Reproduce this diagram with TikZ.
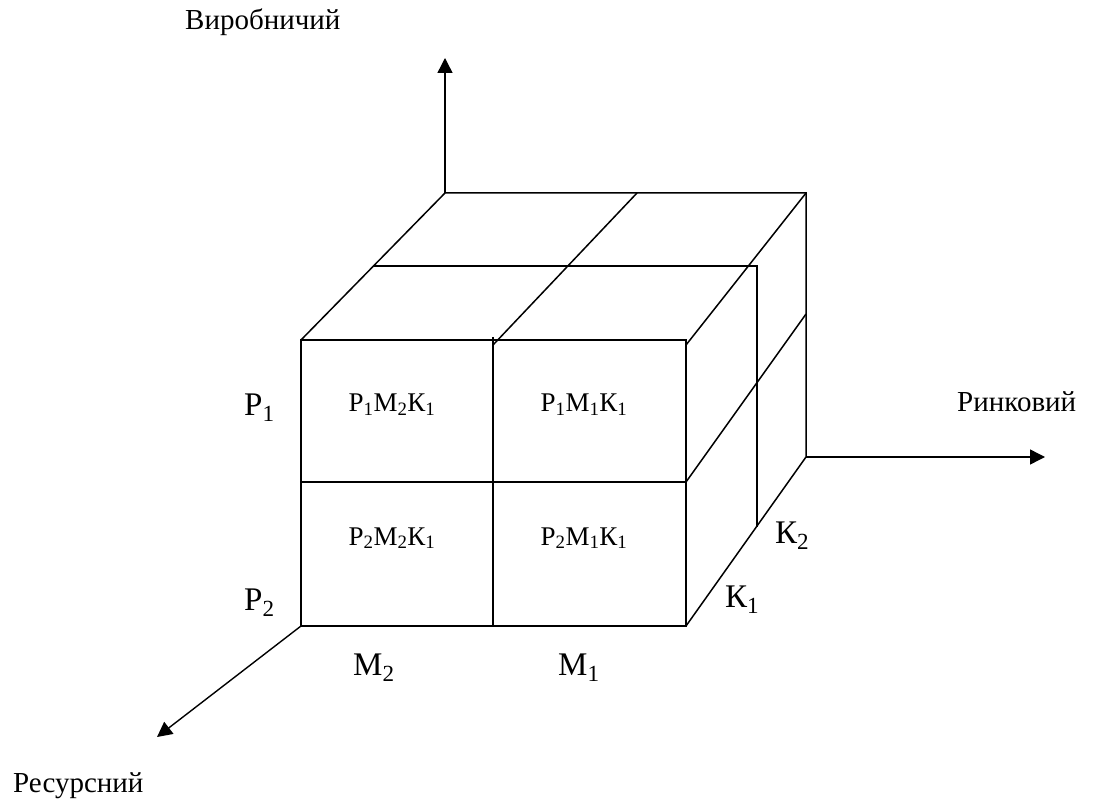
\documentclass[tikz,border=0pt]{standalone}
\usepackage{fontspec}
\setmainfont{Liberation Serif}
\usepackage{tikz}
\usetikzlibrary{arrows.meta}
\newcommand{\ix}[1]{\textsubscript{#1}}

\begin{document}
\begin{tikzpicture}[
  x=1pt, y=-1pt,
  edge/.style={line width=1.5pt},
  arr/.style={line width=1.4pt, -{Triangle[length=15pt, width=15pt]}},
  axis/.style={font=\fontsize{29}{34}\selectfont, anchor=base west, inner sep=0pt},
  dim/.style={font=\fontsize{33}{38}\selectfont, anchor=base west, inner sep=0pt},
  cell/.style={font=\fontsize{27}{31}\selectfont, anchor=base, inner sep=0pt},
  ]
  \useasboundingbox (0,0) rectangle (1093,802);

  \coordinate (ftl) at (301,340);
  \coordinate (ftm) at (493,337);
  \coordinate (ftr) at (686,340);
  \coordinate (fml) at (301,482);
  \coordinate (fmr) at (686,482);
  \coordinate (fbl) at (301,626);
  \coordinate (fbm) at (493,626);
  \coordinate (fbr) at (686,626);
  \coordinate (tmm) at (493,345);
  \coordinate (tmr) at (686,345);
  \coordinate (btl) at (445,193);
  \coordinate (btm) at (637,193);
  \coordinate (btr) at (806,193);
  \coordinate (bmr) at (806,314);
  \coordinate (bbr) at (806,457);
  \coordinate (ktl) at (373,266);
  \coordinate (ktr) at (757,266);
  \coordinate (kbt) at (757,527);
  \coordinate (ytip) at (445,58);
  \coordinate (xtip) at (1045,457);
  \coordinate (ztip) at (157,737);

  \draw[edge] (ftl) rectangle (fbr);
  \draw[edge] (fml) -- (fmr);
  \draw[edge] (ftm) -- (fbm);
  \draw[edge] (ftl) -- (btl) -- (btr) -- (bbr);
  \draw[edge] (tmm) -- (btm);
  \draw[edge] (tmr) -- (btr);
  \draw[edge] (fmr) -- (bmr);
  \draw[edge] (fbr) -- (bbr);
  \draw[edge] (ktl) -- (ktr) -- (kbt);

  \draw[arr] (btl) -- (ytip);
  \draw[arr] (bbr) -- (xtip);
  \draw[arr] (fbl) -- (ztip);

  \node[axis] (prod) at (185,30) {Виробничий};
  \node[axis] (market) at (957,412) {Ринковий};
  \node[axis] (res) at (13,792) {Ресурсний};

  \node[dim] (p1) at (244,415) {Р\ix{1}};
  \node[dim] (p2) at (244,610) {Р\ix{2}};
  \node[dim] (m2) at (353,675) {М\ix{2}};
  \node[dim] (m1) at (558,675) {М\ix{1}};
  \node[dim] (k1) at (725,607) {К\ix{1}};
  \node[dim] (k2) at (775,543) {К\ix{2}};

  \node[cell] (c11) at (392,412) {Р\ix{1}М\ix{2}К\ix{1}};
  \node[cell] (c12) at (584,412) {Р\ix{1}М\ix{1}К\ix{1}};
  \node[cell] (c21) at (392,545) {Р\ix{2}М\ix{2}К\ix{1}};
  \node[cell] (c22) at (584,545) {Р\ix{2}М\ix{1}К\ix{1}};
\end{tikzpicture}
\end{document}
